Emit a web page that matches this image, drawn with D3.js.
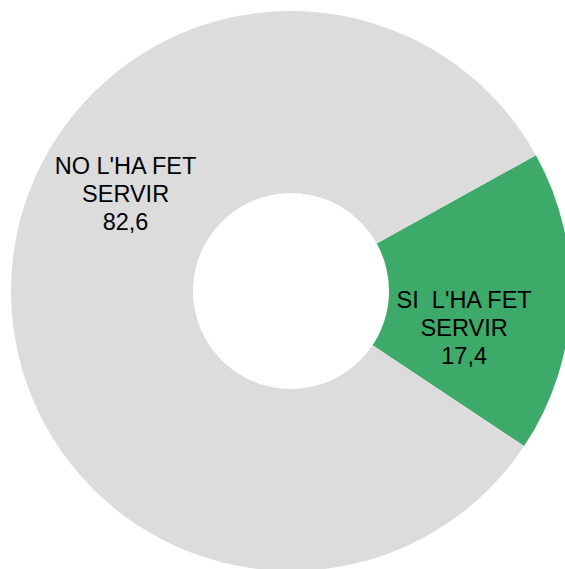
<!DOCTYPE html>
<html>
<head>
<meta charset="utf-8">
<script src="https://cdn.jsdelivr.net/npm/d3@7"></script>
<style>
  html, body { margin: 0; padding: 0; background: #fff; }
  svg { display: block; }
</style>
</head>
<body>
<div id="chart"></div>
<script>
const categories = ["SI  L'HA FET SERVIR", "NO L'HA FET SERVIR"];
const labelLines = [["SI  L'HA FET", "SERVIR"], ["NO L'HA FET", "SERVIR"]];
const values     = [17.4, 82.6];
const colors     = ["#3eaa6a", "#dcdcdc"];

// label placement (polar: degrees clockwise from 12 o'clock, radius)
const labelAngle  = [102, 300.5];
const labelRadius = [177, 192];

const width = 565, height = 569;
const cx = 291, cy = 291;
const outerR = 280, innerR = 98;
const startDeg = 61.0;
const rad = (d) => d * Math.PI / 180;

const fmt = (v) => d3.format(".1f")(v).replace(".", ",");

const svg = d3.select("#chart").append("svg")
    .attr("width", width)
    .attr("height", height);

const g = svg.append("g")
    .attr("transform", `translate(${cx},${cy})`);

const pie = d3.pie()
  .sort(null)
  .value((d) => d)
  .startAngle(rad(startDeg))
  .endAngle(rad(startDeg + 360));

const arc = d3.arc()
  .innerRadius(innerR)
  .outerRadius(outerR);

const arcs = pie(values);

g.selectAll("path")
  .data(arcs)
  .enter()
  .append("path")
    .attr("d", arc)
    .attr("fill", (d, i) => colors[i]);

const labels = g.selectAll("g.label")
  .data(arcs)
  .enter()
  .append("g")
    .attr("class", "label")
    .attr("transform", (d, i) => {
      const [x, y] = d3.pointRadial(rad(labelAngle[i]), labelRadius[i]);
      return `translate(${x},${y})`;
    });

labels.append("text")
    .attr("text-anchor", "middle")
    .attr("font-family", "'Liberation Sans', Arial, sans-serif")
    .attr("font-size", "23.5px")
    .attr("fill", "#000")
    .style("white-space", "pre")
  .selectAll("tspan")
  .data((d, i) => labelLines[i].concat([fmt(values[i])]))
  .enter()
  .append("tspan")
    .attr("x", 0)
    .attr("y", (t, j) => (j - 1) * 28 + 8.5)
    .text((t) => t);
</script>
</body>
</html>
